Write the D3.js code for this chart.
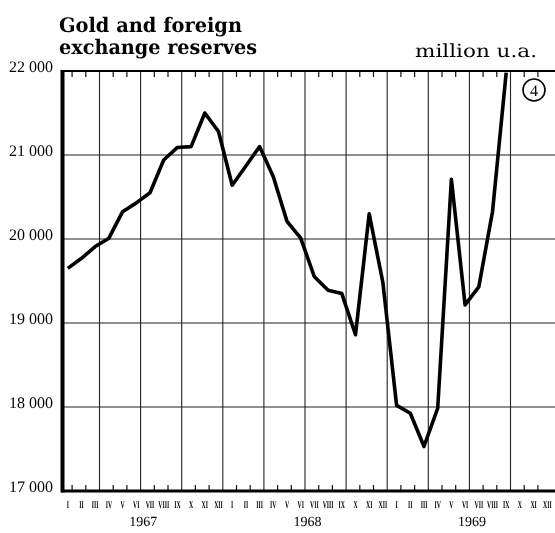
<!DOCTYPE html>
<html>
<head>
<meta charset="utf-8">
<script src="https://cdn.jsdelivr.net/npm/d3@7"></script>
<style>
    body { margin: 0; background: #fff; }
    svg { display: block; will-change: transform; }
    svg text { -webkit-font-smoothing: antialiased; text-rendering: geometricPrecision; }
</style>
</head>
<body>
<div id="chart"></div>
<script>
const romanMonths = ["I", "II", "III", "IV", "V", "VI", "VII", "VIII", "IX", "X", "XI", "XII"];
const years = ["1967", "1968", "1969"];
// end of month, million u.a., I 1967 .. IX 1969
const reserves = [
    19650, 19770, 19910, 20010, 20325, 20430, 20550, 20940, 21090, 21100, 21500, 21280,
    20640, 20870, 21100, 20740, 20210, 20010, 19550, 19390, 19350, 18860, 20300, 19480,
    18020, 17925, 17530, 17985, 20710, 19215, 19430, 20325, 21980
];
const yTicks = [17000, 18000, 19000, 20000, 21000, 22000];

const width = 555, height = 533;
const plot = {left: 62.5, right: 555, top: 71, bottom: 491};
const serif = "'Liberation Serif', 'DejaVu Serif', serif";

let months = [];
years.forEach(y => romanMonths.forEach(m => months.push({label: m, year: y})));

let svg = d3.select("#chart").append("svg")
    .attr("width", width)
    .attr("height", height);

// month index -> x, labels and points sit on the month, ticks a bit right of it
let x = d3.scaleLinear()
    .domain([0, 35])
    .range([67.8, 67.8 + 13.7 * 35]);
const tickShift = 0.314;

let y = d3.scaleLinear()
    .domain([17000, 22000])
    .range([plot.bottom, plot.top]);

const fmt = d3.formatLocale({decimal: ".", thousands: " ", grouping: [3], currency: ["", ""]}).format(",d");

// horizontal grid
svg.append("g")
    .selectAll("line")
    .data(yTicks.filter(v => v > 17000 && v < 22000))
    .enter().append("line")
    .attr("x1", plot.left)
    .attr("x2", plot.right)
    .attr("y1", d => y(d))
    .attr("y2", d => y(d))
    .attr("stroke", "#222")
    .attr("stroke-width", 1.1);

// vertical grid, every quarter
let quarterIdx = d3.range(2, 33, 3);
svg.append("g")
    .selectAll("line")
    .data(quarterIdx)
    .enter().append("line")
    .attr("x1", d => x(d + tickShift))
    .attr("x2", d => x(d + tickShift))
    .attr("y1", plot.top)
    .attr("y2", plot.bottom)
    .attr("stroke", "#222")
    .attr("stroke-width", 1.1);

// small month ticks on top and bottom frame
let monthIdx = d3.range(0, 36).filter(i => (i - 2) % 3 !== 0);
svg.append("g")
    .selectAll("line")
    .data(monthIdx)
    .enter().append("line")
    .attr("x1", d => x(d + tickShift))
    .attr("x2", d => x(d + tickShift))
    .attr("y1", plot.top)
    .attr("y2", plot.top + 6)
    .attr("stroke", "#111")
    .attr("stroke-width", 1.2);
svg.append("g")
    .selectAll("line")
    .data(monthIdx)
    .enter().append("line")
    .attr("x1", d => x(d + tickShift))
    .attr("x2", d => x(d + tickShift))
    .attr("y1", plot.bottom)
    .attr("y2", plot.bottom - 6)
    .attr("stroke", "#111")
    .attr("stroke-width", 1.2);

// frame
svg.append("line")
    .attr("x1", plot.left - 1).attr("x2", plot.right)
    .attr("y1", plot.top).attr("y2", plot.top)
    .attr("stroke", "#000").attr("stroke-width", 2);
svg.append("line")
    .attr("x1", plot.left - 1).attr("x2", plot.right)
    .attr("y1", plot.bottom).attr("y2", plot.bottom)
    .attr("stroke", "#000").attr("stroke-width", 3);
svg.append("line")
    .attr("x1", plot.left).attr("x2", plot.left)
    .attr("y1", plot.top - 1).attr("y2", plot.bottom + 1.5)
    .attr("stroke", "#000").attr("stroke-width", 4);

// y labels
svg.append("g")
    .selectAll("text")
    .data(yTicks)
    .enter().append("text")
    .attr("x", 53)
    .attr("y", d => y(d) + 1)
    .attr("text-anchor", "end")
    .attr("font-family", serif)
    .attr("font-size", 16)
    .text(d => fmt(d));

// month labels, squeezed like the printed ones
svg.append("g")
    .selectAll("g")
    .data(months)
    .enter().append("g")
    .attr("transform", (d, i) => "translate(" + Math.min(x(i), 549) + ",508) scale(0.55,1)")
    .append("text")
    .attr("text-anchor", "middle")
    .attr("font-family", serif)
    .attr("font-weight", "bold")
    .attr("font-size", 10.5)
    .attr("fill", "#000")
    .text(d => d.label);

// year labels
svg.append("g")
    .selectAll("text")
    .data(years)
    .enter().append("text")
    .attr("x", (d, i) => x(i * 12 + 5.5))
    .attr("y", 526)
    .attr("text-anchor", "middle")
    .attr("font-family", serif)
    .attr("font-size", 14)
    .text(d => d);

// reserves line
let line = d3.line()
    .x((d, i) => x(i))
    .y(d => y(d));

svg.append("path")
    .datum(reserves)
    .attr("d", line)
    .attr("fill", "none")
    .attr("stroke", "#000")
    .attr("stroke-width", 3.6)
    .attr("stroke-linejoin", "round");

// titles
function fitText(sel, target) {
    sel.attr("textLength", target).attr("lengthAdjust", "spacingAndGlyphs");
}
svg.append("text")
    .attr("x", 59).attr("y", 32)
    .attr("font-family", "'DejaVu Serif', serif")
    .attr("font-weight", "bold")
    .attr("font-size", 20)
    .text("Gold and foreign")
    .call(fitText, 183);
svg.append("text")
    .attr("x", 59).attr("y", 54)
    .attr("font-family", "'DejaVu Serif', serif")
    .attr("font-weight", "bold")
    .attr("font-size", 20)
    .text("exchange reserves")
    .call(fitText, 198);
svg.append("text")
    .attr("x", 415).attr("y", 57)
    .attr("font-family", "'DejaVu Serif', serif")
    .attr("font-size", 18)
    .text("million u.a.")
    .call(fitText, 122);

// chart number
svg.append("circle")
    .attr("cx", 534).attr("cy", 90).attr("r", 11)
    .attr("fill", "#fff")
    .attr("stroke", "#000")
    .attr("stroke-width", 1.6);
svg.append("text")
    .attr("x", 534).attr("y", 95.5)
    .attr("text-anchor", "middle")
    .attr("font-family", serif)
    .attr("font-size", 16)
    .text("4");
</script>
</body>
</html>
